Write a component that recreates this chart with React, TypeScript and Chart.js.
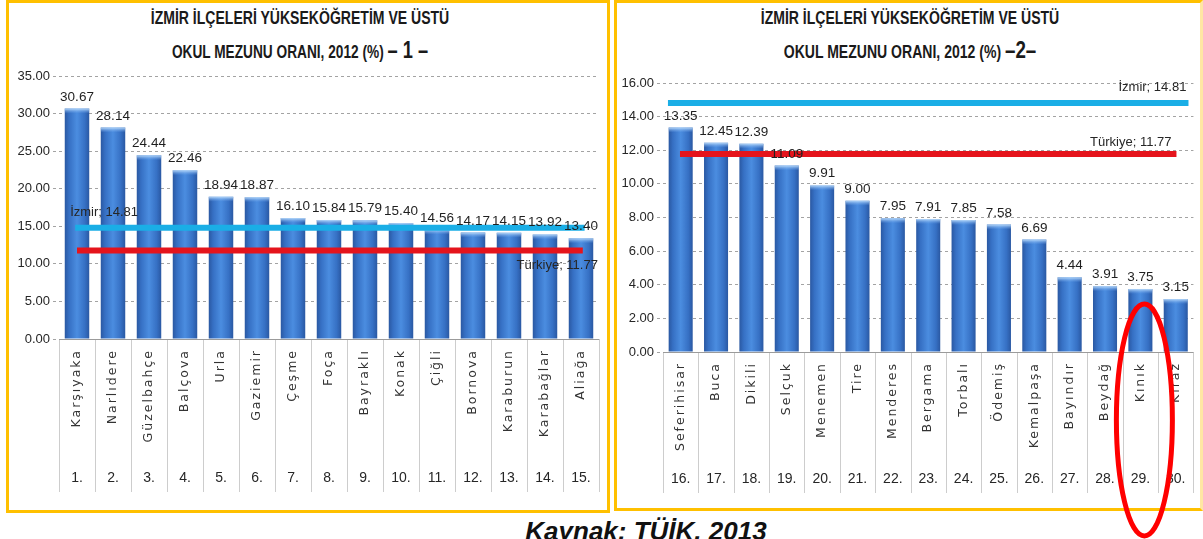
import React, { useEffect, useRef } from 'react';
import { Chart, registerables } from 'chart.js';

Chart.register(...registerables);

const NARROW = "'Liberation Sans', Arial, sans-serif";
const NAME_FONT = "'DejaVu Sans', Verdana, sans-serif";

// ---- data ----
const leftDistricts = ['Karşıyaka', 'Narlıdere', 'Güzelbahçe', 'Balçova', 'Urla', 'Gaziemir', 'Çeşme', 'Foça', 'Bayraklı', 'Konak', 'Çiğli', 'Bornova', 'Karaburun', 'Karabağlar', 'Aliağa'];
const leftValues = [30.67, 28.14, 24.44, 22.46, 18.94, 18.87, 16.10, 15.84, 15.79, 15.40, 14.56, 14.17, 14.15, 13.92, 13.40];
const leftRanks = ['1.', '2.', '3.', '4.', '5.', '6.', '7.', '8.', '9.', '10.', '11.', '12.', '13.', '14.', '15.'];

const rightDistricts = ['Seferihisar', 'Buca', 'Dikili', 'Selçuk', 'Menemen', 'Tire', 'Menderes', 'Bergama', 'Torbalı', 'Ödemiş', 'Kemalpaşa', 'Bayındır', 'Beydağ', 'Kınık', 'Kiraz'];
const rightValues = [13.35, 12.45, 12.39, 11.09, 9.91, 9.00, 7.95, 7.91, 7.85, 7.58, 6.69, 4.44, 3.91, 3.75, 3.15];
const rightRanks = ['16.', '17.', '18.', '19.', '20.', '21.', '22.', '23.', '24.', '25.', '26.', '27.', '28.', '29.', '30.'];

const IZMIR = 14.81;
const TURKIYE = 11.77;
const IZMIR_LABEL = 'İzmir; 14.81';
const TURKIYE_LABEL = 'Türkiye; 11.77';

const leftTitle1 = 'İZMİR İLÇELERİ YÜKSEKÖĞRETİM VE ÜSTÜ';
const leftTitle2 = 'OKUL MEZUNU ORANI, 2012 (%) ';
const leftTitleNo = '– 1 –';
const rightTitle1 = 'İZMİR İLÇELERİ YÜKSEKÖĞRETİM VE ÜSTÜ';
const rightTitle2 = 'OKUL MEZUNU ORANI, 2012 (%) ';
const rightTitleNo = '–2–';
const SOURCE = 'Kaynak: TÜİK, 2013';

type LineLabel = { text: string; value: number; x: number; align: CanvasTextAlign; dy: number };
type PanelCfg = {
  names: string[];
  values: number[];
  ranks: string[];
  yMax: number;
  yStep: number;
  box: { left: number; top: number; width: number; height: number };
  pad: { top: number; right: number; bottom: number };
  yWidth: number;
  namesH: number;
  ranksH: number;
  izmirSpan: [number, number];
  turkSpan: [number, number];
  lineLabels: LineLabel[];
  ellipse?: { index: number; dx: number; dy: number; rx: number; ry: number };
};

const leftCfg: PanelCfg = {
  names: leftDistricts,
  values: leftValues,
  ranks: leftRanks,
  yMax: 35,
  yStep: 5,
  box: { left: 9, top: 3, width: 598, height: 507 },
  pad: { top: 73, right: 8, bottom: 18 },
  yWidth: 50,
  namesH: 126,
  ranksH: 27,
  izmirSpan: [-0.05, 14.1],
  turkSpan: [0, 14.05],
  lineLabels: [
    { text: IZMIR_LABEL, value: IZMIR, x: -0.19, align: 'left', dy: -15 },
    { text: TURKIYE_LABEL, value: TURKIYE, x: 14.47, align: 'right', dy: 15 },
  ],
};

const rightCfg: PanelCfg = {
  names: rightDistricts,
  values: rightValues,
  ranks: rightRanks,
  yMax: 16,
  yStep: 2,
  box: { left: 617, top: 3, width: 584, height: 536 },
  pad: { top: 80, right: 6, bottom: 46 },
  yWidth: 46,
  namesH: 114,
  ranksH: 27,
  izmirSpan: [-0.36, 14.36],
  turkSpan: [-0.02, 14.02],
  lineLabels: [
    { text: IZMIR_LABEL, value: IZMIR, x: 14.3, align: 'right', dy: -16 },
    { text: TURKIYE_LABEL, value: TURKIYE, x: 13.88, align: 'right', dy: -12 },
  ],
  ellipse: { index: 13, dx: 4, dy: 68, rx: 28, ry: 116 },
};

function barGradient(c: any) {
  const chart = c.chart;
  const xs = chart.scales && chart.scales.x;
  if (!xs || c.dataIndex == null || !chart.chartArea) return '#3a78cc';
  const cx = xs.getPixelForValue(c.dataIndex);
  const step = xs.getPixelForValue(1) - xs.getPixelForValue(0);
  const w = step * 0.68;
  const g = chart.ctx.createLinearGradient(cx - w / 2, 0, cx + w / 2, 0);
  g.addColorStop(0, '#2a58a2');
  g.addColorStop(0.18, '#3670c4');
  g.addColorStop(0.5, '#4b8de0');
  g.addColorStop(0.82, '#3670c4');
  g.addColorStop(1, '#2a58a2');
  return g;
}

function PanelChart({ cfg }: { cfg: PanelCfg }) {
  const ref = useRef<HTMLCanvasElement>(null);
  useEffect(() => {
    const n = cfg.names.length;
    const plugins: any[] = [
      {
        id: 'separators',
        beforeDatasetsDraw(chart: any) {
          const { ctx, chartArea } = chart;
          const xs = chart.scales.x;
          const x2 = chart.scales.x2;
          const half = (xs.getPixelForValue(1) - xs.getPixelForValue(0)) / 2;
          ctx.save();
          ctx.strokeStyle = '#cdcdcd';
          ctx.lineWidth = 1;
          for (let i = 0; i <= n; i++) {
            const base = xs.getPixelForValue(Math.min(i, n - 1));
            const px = Math.round(base + (i < n ? -half : half)) + 0.5;
            ctx.beginPath();
            ctx.moveTo(px, chartArea.bottom);
            ctx.lineTo(px, x2.bottom);
            ctx.stroke();
          }
          ctx.strokeStyle = '#9b9b9b';
          const y0 = Math.round(chart.scales.y.getPixelForValue(0)) + 0.5;
          ctx.beginPath();
          ctx.moveTo(chartArea.left, y0);
          ctx.lineTo(chartArea.right, y0);
          ctx.stroke();
          ctx.restore();
        },
      },
      {
        id: 'barTop',
        afterDatasetDraw(chart: any, args: any) {
          if (args.index !== 0) return;
          const ctx = chart.ctx;
          ctx.save();
          args.meta.data.forEach((bar: any) => {
            const { x, y, width } = bar.getProps(['x', 'y', 'width'], true);
            const g = ctx.createLinearGradient(0, y, 0, y + 5);
            g.addColorStop(0, 'rgba(190,222,252,0.95)');
            g.addColorStop(1, 'rgba(110,165,235,0)');
            ctx.fillStyle = g;
            ctx.fillRect(x - width / 2, y, width, 5);
          });
          ctx.restore();
        },
      },
      {
        id: 'valueLabels',
        afterDatasetsDraw(chart: any) {
          const ctx = chart.ctx;
          const meta = chart.getDatasetMeta(0);
          const data = chart.data.datasets[0].data as number[];
          ctx.save();
          ctx.font = `13.5px ${NARROW}`;
          ctx.fillStyle = '#1f1f1f';
          ctx.textAlign = 'center';
          ctx.textBaseline = 'alphabetic';
          meta.data.forEach((bar: any, i: number) => {
            const { x, y } = bar.getProps(['x', 'y'], true);
            ctx.fillText(data[i].toFixed(2), x, y - 8);
          });
          // reference line labels
          ctx.font = `13px ${NARROW}`;
          ctx.fillStyle = '#262626';
          ctx.textBaseline = 'middle';
          const x3 = chart.scales.x3;
          const ys = chart.scales.y;
          cfg.lineLabels.forEach((l) => {
            ctx.textAlign = l.align;
            ctx.fillText(l.text, x3.getPixelForValue(l.x), ys.getPixelForValue(l.value) + l.dy);
          });
          ctx.restore();
          // letter spacing for the rotated district names, drawn next (ticks.z: 1)
          (ctx as any).letterSpacing = '2px';
        },
        afterDraw(chart: any) {
          const ctx = chart.ctx;
          (ctx as any).letterSpacing = '0px';
          if (cfg.ellipse) {
            const e = cfg.ellipse;
            const xs = chart.scales.x;
            const cx = xs.getPixelForValue(e.index) + e.dx;
            const cy = chart.chartArea.bottom + e.dy;
            ctx.save();
            ctx.strokeStyle = '#ff0000';
            ctx.lineWidth = 5;
            ctx.beginPath();
            ctx.ellipse(cx, cy, e.rx, e.ry, 0, 0, Math.PI * 2);
            ctx.stroke();
            ctx.restore();
          }
        },
      },
    ];

    const chart = new Chart(ref.current as HTMLCanvasElement, {
      type: 'bar',
      data: {
        labels: cfg.names,
        datasets: [
          {
            type: 'bar',
            data: cfg.values,
            backgroundColor: barGradient as any,
            borderWidth: 0,
            barPercentage: 0.68,
            categoryPercentage: 1,
            grouped: false,
            xAxisID: 'x',
            yAxisID: 'y',
            order: 1,
          } as any,
          {
            type: 'line',
            data: [
              { x: cfg.izmirSpan[0], y: IZMIR },
              { x: cfg.izmirSpan[1], y: IZMIR },
            ],
            borderColor: '#1aaee6',
            borderWidth: 6,
            pointRadius: 0,
            fill: false,
            xAxisID: 'x3',
            yAxisID: 'y',
            order: 0,
          } as any,
          {
            type: 'line',
            data: [
              { x: cfg.turkSpan[0], y: TURKIYE },
              { x: cfg.turkSpan[1], y: TURKIYE },
            ],
            borderColor: '#e5141c',
            borderWidth: 6,
            pointRadius: 0,
            fill: false,
            xAxisID: 'x3',
            yAxisID: 'y',
            order: 0,
          } as any,
        ],
      },
      options: {
        responsive: false,
        animation: false,
        devicePixelRatio: 1,
        events: [],
        layout: { padding: { top: cfg.pad.top, right: cfg.pad.right, bottom: cfg.pad.bottom, left: 0 } },
        plugins: { legend: { display: false }, tooltip: { enabled: false }, title: { display: false } },
        scales: {
          x: {
            type: 'category',
            position: 'bottom',
            offset: true,
            weight: 1,
            grid: { display: false, drawTicks: false },
            border: { display: false },
            ticks: {
              z: 1,
              autoSkip: false,
              maxRotation: 90,
              minRotation: 90,
              padding: 10,
              color: '#333333',
              font: { family: NAME_FONT, size: 12.5 },
            },
            afterFit: (s: any) => { s.height = cfg.namesH; },
          },
          x2: {
            type: 'category',
            position: 'bottom',
            labels: cfg.ranks,
            offset: true,
            weight: 2,
            grid: { display: false, drawTicks: false },
            border: { display: false },
            ticks: {
              autoSkip: false,
              maxRotation: 0,
              minRotation: 0,
              padding: 5,
              color: '#262626',
              font: { family: NARROW, size: 14 },
            },
            afterFit: (s: any) => { s.height = cfg.ranksH; },
          },
          x3: {
            type: 'linear',
            position: 'bottom',
            offset: false,
            weight: 0,
            min: -0.5,
            max: n - 0.5,
            grid: { display: false, drawTicks: false },
            border: { display: false },
            ticks: { display: false },
            afterFit: (s: any) => { s.height = 0; },
          },
          y: {
            type: 'linear',
            min: 0,
            max: cfg.yMax,
            grid: { color: '#a3a3a3', lineWidth: 1, tickLength: 6, drawTicks: true, tickBorderDash: [3, 3] },
            border: { display: false, dash: [3, 3] },
            ticks: {
              stepSize: cfg.yStep,
              padding: 3,
              color: '#262626',
              font: { family: NARROW, size: 13 },
              callback: (v: any) => Number(v).toFixed(2),
            },
            afterFit: (s: any) => { s.width = cfg.yWidth; },
          },
        },
      } as any,
      plugins,
    });
    return () => chart.destroy();
  }, [cfg]);
  const b = cfg.box;
  return (
    <canvas
      ref={ref}
      width={b.width}
      height={b.height}
      style={{ position: 'absolute', left: b.left, top: b.top, width: b.width, height: b.height, display: 'block' }}
    />
  );
}

const titleLine: React.CSSProperties = {
  position: 'absolute',
  textAlign: 'center',
  fontFamily: NARROW,
  fontWeight: 700,
  color: '#1a1a1a',
  whiteSpace: 'nowrap',
  lineHeight: '24px',
  transformOrigin: 'center center',
};

export default function App() {
  return (
    <div style={{ position: 'absolute', left: 0, top: 0, width: 1203, height: 539, background: '#ffffff', overflow: 'hidden' }}>
      {/* left panel */}
      <div style={{ position: 'absolute', left: 6, top: 0, width: 604, height: 513, boxSizing: 'border-box', border: '3px solid #ffc000' }} />
      <div style={{ ...titleLine, left: 6, width: 588, top: 6, fontSize: 18, transform: 'scaleX(0.78)' }}>{leftTitle1}</div>
      <div style={{ ...titleLine, left: 6, width: 588, top: 38, fontSize: 18, transform: 'scaleX(0.76)' }}>
        {leftTitle2}
        <span style={{ fontSize: 24 }}>{leftTitleNo}</span>
      </div>
      <PanelChart cfg={leftCfg} />

      {/* right panel */}
      <div style={{ position: 'absolute', left: 614, top: 0, width: 589, height: 511, boxSizing: 'border-box', border: '3px solid #ffc000', borderRightColor: '#ffe7a3' }} />
      <div style={{ ...titleLine, left: 614, width: 592, top: 6, fontSize: 18, transform: 'scaleX(0.78)' }}>{rightTitle1}</div>
      <div style={{ ...titleLine, left: 614, width: 592, top: 38, fontSize: 18, transform: 'scaleX(0.78)' }}>
        {rightTitle2}
        <span style={{ fontSize: 24 }}>{rightTitleNo}</span>
      </div>

      <div style={{ position: 'absolute', left: 446, width: 400, top: 515, textAlign: 'center', fontFamily: NARROW, fontWeight: 700, fontStyle: 'italic', fontSize: 26, color: '#111111', whiteSpace: 'nowrap', lineHeight: '32px' }}>
        {SOURCE}
      </div>
      <PanelChart cfg={rightCfg} />
    </div>
  );
}
